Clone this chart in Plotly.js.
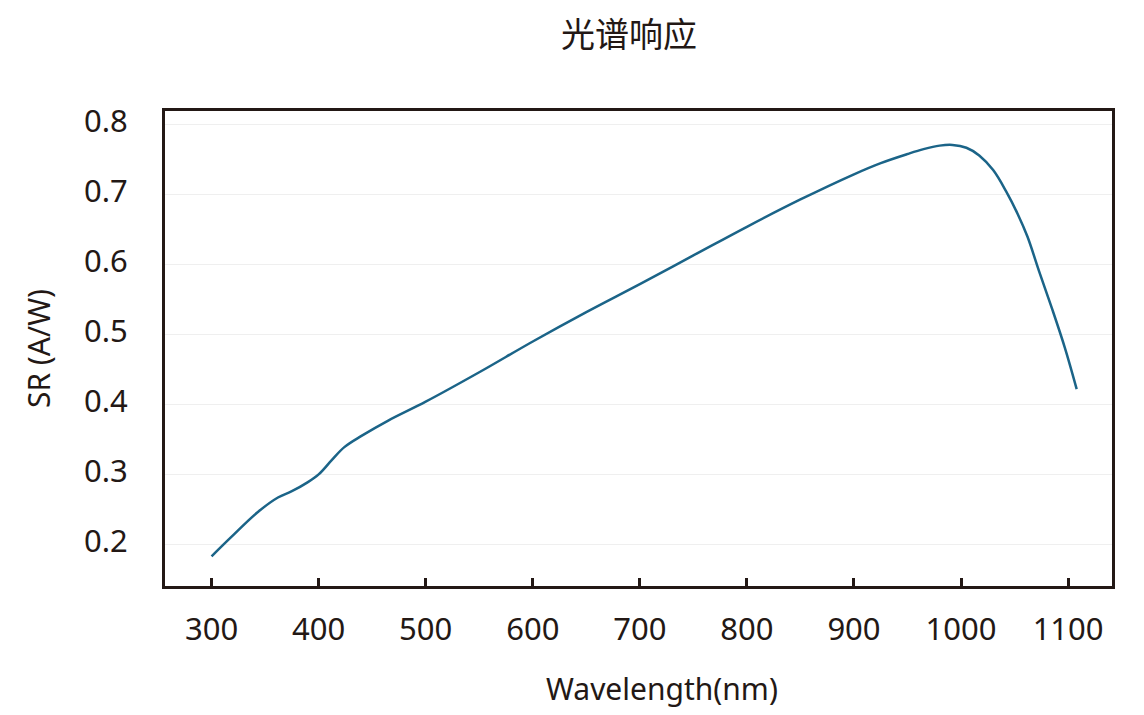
<!DOCTYPE html>
<html>
<head>
<meta charset="utf-8">
<script src="https://cdn.plot.ly/plotly-3.0.1.min.js"></script>
<style>
  html, body { margin: 0; padding: 0; background: #ffffff; }
  #chart { width: 1144px; height: 715px; }
</style>
</head>
<body>
<div id="chart"></div>
<script>
// Wavelength (nm)
var wavelength = [300, 318, 343, 362, 375, 390, 400, 412, 424, 440, 465, 500, 550, 600, 650, 700, 750, 800, 850, 900, 925, 950, 965, 980, 992, 1005, 1017, 1030, 1042, 1053, 1062, 1073, 1085, 1097, 1108];
// Spectral response SR (A/W)
var responsivity = [0.183, 0.210, 0.246, 0.267, 0.276, 0.289, 0.300, 0.320, 0.339, 0.355, 0.377, 0.404, 0.446, 0.490, 0.532, 0.572, 0.613, 0.654, 0.693, 0.729, 0.745, 0.758, 0.765, 0.770, 0.771, 0.767, 0.756, 0.735, 0.705, 0.672, 0.640, 0.590, 0.537, 0.481, 0.422];

var xTicks = [300, 400, 500, 600, 700, 800, 900, 1000, 1100];
var yTicks = [0.2, 0.3, 0.4, 0.5, 0.6, 0.7, 0.8];

var chartTitle = '光谱响应';
var xTitle = 'Wavelength(nm)';
var yTitle = 'SR (A/W)';

var ink = '#231815';
var font = '"Noto Sans", "Noto Sans CJK SC", sans-serif';

var trace = {
  x: wavelength,
  y: responsivity,
  type: 'scatter',
  mode: 'lines',
  line: { color: '#1b6488', width: 2.5, shape: 'spline', smoothing: 1 },
  hoverinfo: 'x+y'
};

var layout = {
  width: 1144,
  height: 715,
  paper_bgcolor: '#ffffff',
  plot_bgcolor: '#ffffff',
  showlegend: false,
  margin: { l: 165, r: 32, t: 111, b: 129 },
  font: { family: font, color: ink, size: 30 },
  title: {
    text: chartTitle,
    font: { family: '"Noto Sans CJK SC", sans-serif', size: 34, color: ink },
    x: 0.49, xanchor: 'center', xref: 'paper',
    y: 0.951, yanchor: 'middle', yref: 'container'
  },
  xaxis: {
    range: [256.5, 1141],
    tickmode: 'array',
    tickvals: xTicks,
    ticktext: xTicks.map(String),
    ticks: 'inside',
    ticklen: 8,
    tickwidth: 3,
    tickcolor: ink,
    ticklabelstandoff: 14,
    showline: true,
    linecolor: ink,
    linewidth: 3,
    mirror: true,
    showgrid: false,
    zeroline: false,
    tickfont: { family: font, size: 31, color: ink }
  },
  yaxis: {
    range: [0.1405, 0.8195],
    tickmode: 'array',
    tickvals: yTicks,
    ticktext: yTicks.map(function (v) { return v.toFixed(1); }),
    ticks: '',
    ticklabelstandoff: 28,
    ticklabelshift: -3,
    showline: true,
    linecolor: ink,
    linewidth: 3,
    mirror: true,
    showgrid: true,
    gridcolor: '#efefef',
    gridwidth: 1,
    zeroline: false,
    tickfont: { family: font, size: 31, color: ink },
    title: { text: yTitle, font: { family: font, size: 30, color: ink }, standoff: 25 }
  },
  annotations: [{
    text: xTitle,
    xref: 'paper', yref: 'paper',
    x: 0.525, y: -0.215,
    xanchor: 'center', yanchor: 'middle',
    showarrow: false,
    font: { family: font, size: 30, color: ink }
  }]
};

Plotly.newPlot('chart', [trace], layout, { displayModeBar: false, staticPlot: true });
</script>
</body>
</html>
